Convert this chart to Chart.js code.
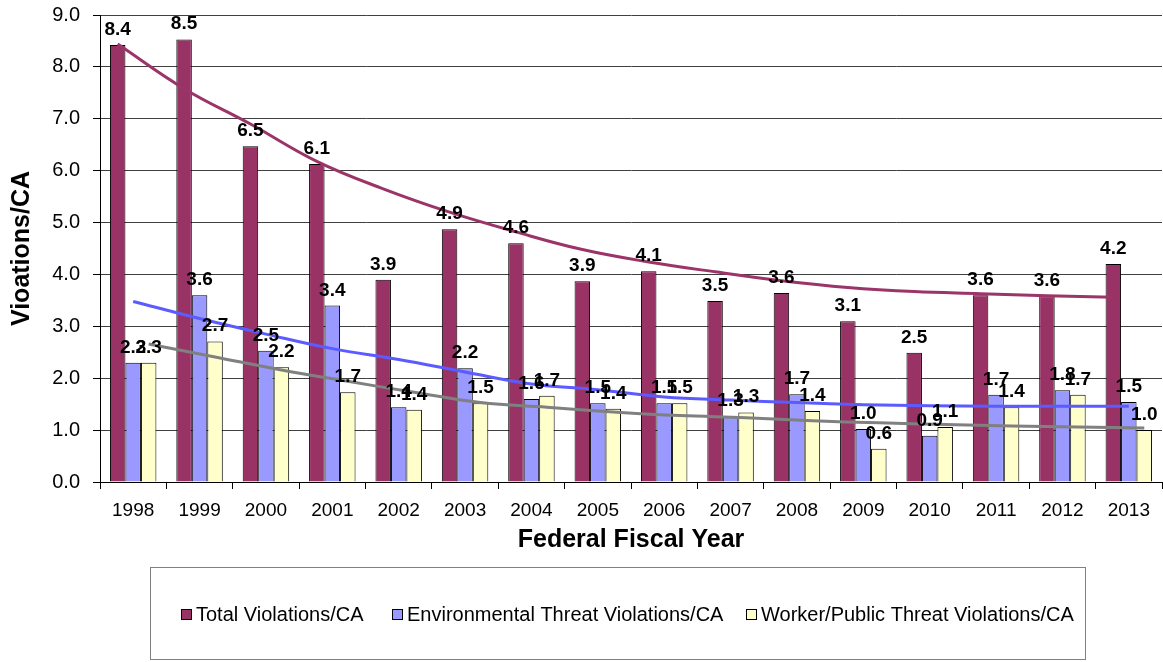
<!DOCTYPE html>
<html>
<head>
<meta charset="utf-8">
<script src="https://cdn.jsdelivr.net/npm/chart.js@4.4.1/dist/chart.umd.min.js"></script>
<style>
  html, body { margin: 0; padding: 0; background: #fff; }
  #wrap { width: 1163px; height: 662px; position: relative; }
</style>
</head>
<body>
<div id="wrap"><canvas id="myChart"></canvas></div>
<script>
// data
var years = ['1998','1999','2000','2001','2002','2003','2004','2005','2006','2007','2008','2009','2010','2011','2012','2013'];
var totalViol = [8.42, 8.53, 6.47, 6.13, 3.9, 4.87, 4.6, 3.87, 4.06, 3.49, 3.64, 3.1, 2.49, 3.6, 3.58, 4.2];
var envViol = [2.3, 3.6, 2.53, 3.4, 1.44, 2.19, 1.6, 1.52, 1.52, 1.27, 1.69, 1.02, 0.89, 1.68, 1.77, 1.54];
var workerViol = [2.3, 2.71, 2.21, 1.73, 1.39, 1.52, 1.66, 1.41, 1.52, 1.34, 1.37, 0.64, 1.06, 1.44, 1.68, 1.0];
// trendlines at each bar
var totalTrend = [8.44, 7.58, 6.9, 6.18, 5.65, 5.2, 4.82, 4.48, 4.24, 4.05, 3.88, 3.75, 3.67, 3.63, 3.59, 3.56];
var envTrend = [3.48, 3.15, 2.85, 2.57, 2.36, 2.12, 1.89, 1.78, 1.64, 1.58, 1.53, 1.49, 1.47, 1.46, 1.46, 1.46];
var workerTrend = [2.66, 2.41, 2.16, 1.94, 1.73, 1.53, 1.44, 1.35, 1.28, 1.24, 1.18, 1.14, 1.11, 1.08, 1.06, 1.04];
var seriesNames = ['Total Violations/CA', 'Environmental Threat Violations/CA', 'Worker/Public Threat Violations/CA'];

var font = "'Liberation Sans', Arial, sans-serif"

// move each trend point onto the bar of its own series
var trendShift = {
    id: 'trendShift',
    afterDatasetsUpdate: function(chart) {
        chart.data.datasets.forEach(function(ds, i) {
            if (ds.type !== 'line') return
            var bars = chart.getDatasetMeta(ds.barIndex).data
            chart.getDatasetMeta(i).data.forEach(function(pt, j) {
                pt.x = bars[j].x
            })
        })
    }
}

var barLabels = {
    id: 'barLabels',
    afterDatasetsDraw: function(chart) {
        var ctx = chart.ctx
        ctx.save()
        ctx.font = 'bold 19px ' + font
        ctx.fillStyle = '#000'
        ctx.textAlign = 'center'
        ctx.textBaseline = 'alphabetic'
        chart.data.datasets.forEach(function(ds, i) {
            if (ds.type === 'line') return
            chart.getDatasetMeta(i).data.forEach(function(bar, j) {
                ctx.fillText(ds.data[j].toFixed(1), bar.x, bar.y - 10)
            })
        })
        ctx.restore()
    }
}

var boxLegend = {
    id: 'boxLegend',
    afterDraw: function(chart) {
        var ctx = chart.ctx
        ctx.save()
        ctx.strokeStyle = '#808080'
        ctx.lineWidth = 1
        ctx.strokeRect(150.5, 567.5, 935, 92)
        ctx.font = '20px ' + font
        ctx.textBaseline = 'middle'
        var xs = [181, 392, 746]
        for (var i = 0; i < 3; i++) {
            var ds = chart.data.datasets[i]
            ctx.fillStyle = ds.backgroundColor
            ctx.fillRect(xs[i], 609, 11, 11)
            ctx.strokeStyle = '#000'
            ctx.strokeRect(xs[i] + 0.5, 609.5, 10, 10)
            ctx.fillStyle = '#000'
            ctx.fillText(seriesNames[i], xs[i] + 15, 615)
        }
        ctx.restore()
    }
}

var ctx = document.getElementById('myChart')
var myChart = new Chart(ctx, {
    type: 'bar',
    data: {
        labels: years,
        datasets: [
            { label: seriesNames[0], data: totalViol, backgroundColor: '#993366', borderColor: '#000', borderWidth: 1, order: 2 },
            { label: seriesNames[1], data: envViol, backgroundColor: '#9999FF', borderColor: '#000', borderWidth: 1, order: 2 },
            { label: seriesNames[2], data: workerViol, backgroundColor: '#FFFFCC', borderColor: '#000', borderWidth: 1, order: 2 },
            { type: 'line', label: 'trend1', barIndex: 0, data: totalTrend, borderColor: '#9B3468', borderWidth: 3, pointRadius: 0, tension: 0.4, order: 0 },
            { type: 'line', label: 'trend2', barIndex: 1, data: envTrend, borderColor: '#5B5BFF', borderWidth: 3, pointRadius: 0, tension: 0.4, order: 0 },
            { type: 'line', label: 'trend3', barIndex: 2, data: workerTrend, borderColor: '#808080', borderWidth: 3, pointRadius: 0, tension: 0.4, order: 0 }
        ]
    },
    options: {
        responsive: true,
        maintainAspectRatio: false,
        animation: false,
        layout: { padding: { left: 0, right: 1, top: 15, bottom: 102 } },
        datasets: { bar: { categoryPercentage: 0.7, barPercentage: 1 } },
        plugins: {
            legend: { display: false },
            tooltip: { enabled: false }
        },
        scales: {
            x: {
                grid: { offset: true, drawOnChartArea: false, drawTicks: true, tickLength: 7, color: '#000' },
                border: { color: '#000' },
                ticks: { color: '#000', font: { family: font, size: 19 }, padding: 10 },
                title: { display: true, text: 'Federal Fiscal Year', color: '#000', font: { family: font, size: 25, weight: 'bold' }, padding: { top: 0, bottom: 5 } },
                afterFit: function(scale) { scale.height = 78 }
            },
            y: {
                min: 0,
                max: 9,
                ticks: { stepSize: 1, color: '#000', font: { family: font, size: 20 }, padding: 13,
                    callback: function(v) { return v.toFixed(1) } },
                grid: { color: '#404040', tickColor: '#000', tickLength: 7 },
                border: { color: '#000' },
                title: { display: true, text: 'Vioations/CA', color: '#000', font: { family: font, size: 25, weight: 'bold' }, padding: { top: 7, bottom: 0 } },
                afterFit: function(scale) {
                    scale.width = 100
                    scale.paddingTop = 0
                    scale.paddingBottom = 0
                }
            }
        }
    },
    plugins: [trendShift, barLabels, boxLegend]
})
</script>
</body>
</html>
